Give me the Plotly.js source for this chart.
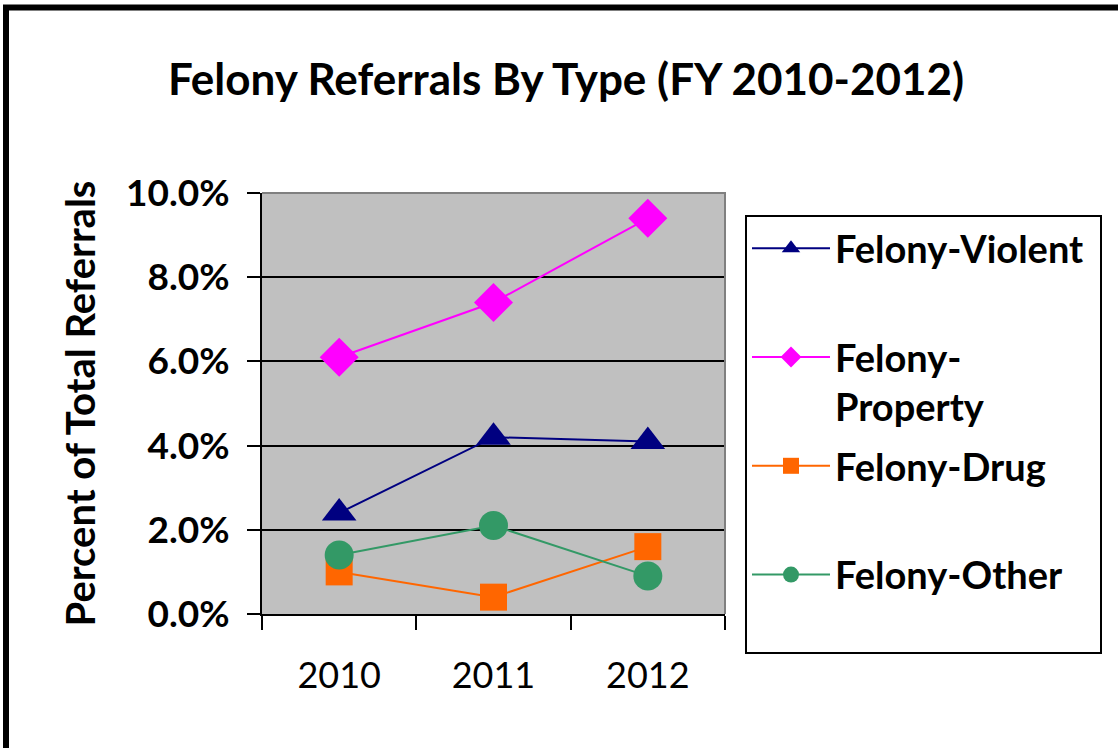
<!DOCTYPE html>
<html><head><meta charset="utf-8">
<script src="https://cdn.plot.ly/plotly-3.0.1.min.js"></script>
<style>html,body{margin:0;padding:0;overflow:hidden;background:#fff}</style>
</head><body><div id="chart" style="width:1118px;height:748px"></div>
<script>
const years = ['2010', '2011', '2012'];
const violent = [0.024, 0.042, 0.041];
const property = [0.061, 0.074, 0.094];
const drug = [0.010, 0.004, 0.016];
const other = [0.014, 0.021, 0.009];
const legendLabels = ['Felony-Violent<br> ', 'Felony-<br>Property', 'Felony-Drug<br> ', 'Felony-Other<br> '];
const seriesColors = ['#000080', '#FF00FF', '#FF6600', '#339966'];
const seriesSymbols = ['triangle-up', 'diamond', 'square', 'circle'];
const seriesSizes = [30, 30, 27, 29];
const seriesValues = [violent, property, drug, other];

const FONT = 'Lato, "Open Sans", sans-serif';

const traces = seriesValues.map((vals, i) => ({
  type: 'scatter', mode: 'lines+markers',
  x: years, y: vals, name: legendLabels[i], legendgroup: 'g' + i,
  line: {color: seriesColors[i], width: 2},
  marker: {symbol: seriesSymbols[i], size: seriesSizes[i], color: seriesColors[i], line: {width: 0}},
  hoverinfo: 'x+y'
}));

const L = 262, R = 725, T = 193, B = 614;
const px2x = p => (p - L) / (R - L);
const px2y = p => (B - p) / (B - T);

const layout = {
  width: 1118, height: 748, autosize: false,
  margin: {l: L, r: 1118 - R, t: T, b: 748 - B, pad: 0},
  paper_bgcolor: '#ffffff', plot_bgcolor: '#C0C0C0',
  font: {family: FONT, color: '#000000'},
  title: {text: 'Felony Referrals By Type (FY 2010-2012)', x: 566 / 1118, xanchor: 'center',
          y: 1 - 80 / 748, yanchor: 'middle', yref: 'container', xref: 'container',
          font: {family: FONT, size: 44, weight: 'bold', color: '#000'}},
  xaxis: {type: 'category', range: [-0.5, 2.5], tickson: 'boundaries', ticks: 'outside', ticklen: 14, tickwidth: 2,
          tickcolor: '#000', showline: true, linecolor: '#000', linewidth: 2, showgrid: false,
          tickfont: {family: FONT, size: 36, color: '#000'}, ticklabelstandoff: 29,
          fixedrange: true},
  yaxis: {range: [0, 0.1], dtick: 0.02, tick0: 0, tickformat: '.1%', ticks: 'outside', ticklen: 13,
          tickwidth: 2, tickcolor: '#000', showline: true, linecolor: '#000', linewidth: 2,
          showgrid: true, gridcolor: '#000', gridwidth: 2, zeroline: false,
          tickfont: {family: FONT, size: 37, weight: 'bold', color: '#000'}, ticklabelstandoff: 10,
          title: {text: 'Percent of Total Referrals', standoff: 18,
                  font: {family: FONT, size: 40, weight: 'bold', color: '#000'}},
          fixedrange: true},
  showlegend: true,
  legend: {x: px2x(747), y: px2y(217), xanchor: 'left', yanchor: 'top', bgcolor: 'rgba(0,0,0,0)',
           borderwidth: 0, valign: 'top', tracegroupgap: 7,
           traceorder: 'grouped', itemsizing: 'trace', itemwidth: 78,
           font: {family: FONT, size: 38, weight: 'bold', color: '#000'}},
  shapes: [
    {type: 'path', xref: 'paper', yref: 'paper',
     path: `M 0 1 L 1 1 L 1 0`, line: {color: '#808080', width: 2}, layer: 'above'},
    {type: 'rect', xref: 'paper', yref: 'paper', x0: px2x(746), y0: px2y(653), x1: px2x(1101), y1: px2y(216),
     line: {color: '#000', width: 2}, fillcolor: '#ffffff', layer: 'below'},
    {type: 'rect', xref: 'paper', yref: 'paper', x0: px2x(6), y0: px2y(770), x1: px2x(1140), y1: px2y(7.5),
     line: {color: '#000', width: 6}, fillcolor: 'rgba(0,0,0,0)', layer: 'above'}
  ]
};

Plotly.newPlot('chart', traces, layout, {displayModeBar: false, staticPlot: true});
</script></body></html>
